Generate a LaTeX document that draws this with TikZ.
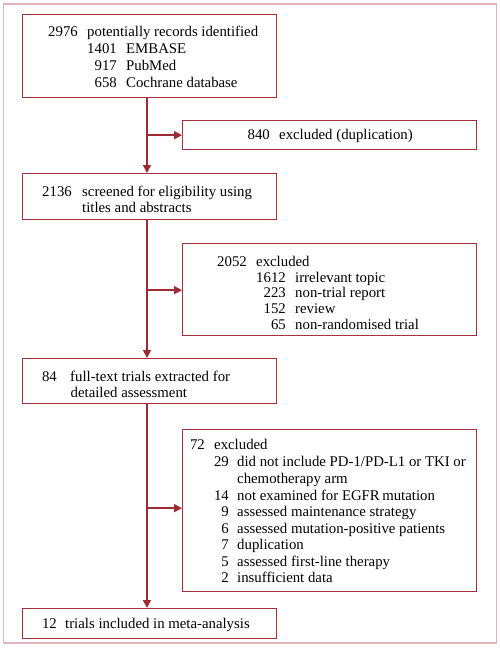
\documentclass[tikz,border=0pt]{standalone}
\usepackage{fontspec}
\setmainfont{Liberation Serif}
\usetikzlibrary{arrows.meta}
\definecolor{boxred}{HTML}{A8323C}
\definecolor{arrred}{HTML}{9E2A34}
\definecolor{framepink}{HTML}{E2B4BC}
\newcommand{\nrow}[5]{%
  \node[txt, anchor=base east] at (#1,#3) {#4};
  \node[txt, anchor=base west] at (#2,#3) {#5};}
\begin{document}
\begin{tikzpicture}[x=1pt,y=-1pt,
  box/.style={draw=boxred, line width=1.3pt, rectangle, inner sep=0pt, anchor=north west},
  txt/.style={inner sep=0pt, font=\fontsize{14.8}{17}\selectfont, text=black},
  arr/.style={draw=arrred, line width=1.5pt, -{Triangle[length=8pt,width=8pt]}}]
\useasboundingbox (0,0) rectangle (500,648);
\fill[white] (0,0) rectangle (500,648);
\draw[framepink, line width=1.3pt] (3.5,4) rectangle (496.8,643);
% boxes
\node[box, minimum width=254pt, minimum height=83pt] (b1) at (22,14) {};
\node[box, minimum width=294pt, minimum height=29pt] (b2) at (182,120) {};
\node[box, minimum width=254pt, minimum height=46pt] (b3) at (22,173) {};
\node[box, minimum width=294pt, minimum height=92pt] (b4) at (182,243) {};
\node[box, minimum width=254pt, minimum height=45pt] (b5) at (22,358) {};
\node[box, minimum width=294pt, minimum height=162pt] (b6) at (182,429) {};
\node[box, minimum width=254pt, minimum height=30pt] (b7) at (22,608) {};
% spine
\coordinate (spine) at (147,0);
\draw[arr] (b1.south -| spine) -- (b3.north -| spine);
\draw[arr] (b3.south -| spine) -- (b5.north -| spine);
\draw[arr] (b5.south -| spine) -- (b7.north -| spine);
\draw[arr] (spine |- b2.west) -- (b2.west);
\coordinate (b4in) at ([yshift=-0.5pt]b4.west);
\draw[arr] (spine |- b4in) -- (b4in);
\coordinate (b6in) at ([yshift=2.5pt]b6.west);
\draw[arr] (spine |- b6in) -- (b6in);
% box 1
\nrow{78}{87}{36}{2976}{potentially records identified}
\nrow{117}{126}{53}{1401}{EMBASE}
\nrow{117}{126}{70}{917}{PubMed}
\nrow{117}{126}{87}{658}{Cochrane database}
% box 2
\nrow{270}{279}{139.5}{840}{excluded (duplication)}
% box 3
\nrow{72}{82}{196.5}{2136}{screened for eligibility using}
\node[txt, anchor=base west] at (82,212) {titles and abstracts};
% box 4
\nrow{247}{256}{266.5}{2052}{excluded}
\nrow{286}{295}{282}{1612}{irrelevant topic}
\nrow{286}{295}{297.7}{223}{non-trial report}
\nrow{286}{295}{313.3}{152}{review}
\nrow{286}{295}{329}{65}{non-randomised trial}
% box 5
\nrow{57}{70}{381.7}{84}{full-text trials extracted for}
\node[txt, anchor=base west] at (70.5,397.7) {detailed assessment};
% box 6
\nrow{205}{214}{449.5}{72}{excluded}
\nrow{229}{237}{466.5}{29}{did not include PD-1/PD-L1 or TKI or}
\node[txt, anchor=base west] at (237,483) {chemotherapy arm};
\nrow{229}{237}{500}{14}{not examined for EGFR\,mutation}
\nrow{229}{237}{516.5}{9}{assessed maintenance strategy}
\nrow{229}{237}{533}{6}{assessed mutation-positive patients}
\nrow{229}{237}{549.5}{7}{duplication}
\nrow{229}{237}{566}{5}{assessed first-line therapy}
\nrow{229}{237}{582.5}{2}{insufficient data}
% box 7
\nrow{57}{65}{628.3}{12}{trials included in meta-analysis}
\end{tikzpicture}
\end{document}
